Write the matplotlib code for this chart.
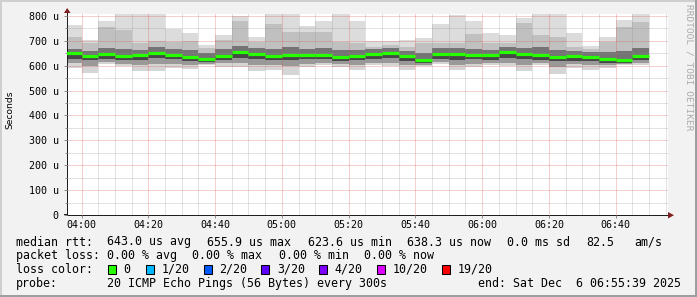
import numpy as np
import pandas as pd
import matplotlib
matplotlib.use("Agg")
import matplotlib.pyplot as plt
import matplotlib.dates as mdates
from matplotlib.patches import Rectangle, Polygon

# 5 minute steps, each value stamped at the end of its step
step_end = pd.date_range("2025-12-06 04:00", periods=35, freq="5min")
t_start = pd.Timestamp("2025-12-06 03:55:39")
t_end = pd.Timestamp("2025-12-06 06:55:39")

# round trip times in microseconds
rtt_max = [762, 705, 781, 850, 870, 840, 749, 732, 682, 725, 800, 716, 860, 840, 761, 779,
           850, 781, 698, 698, 705, 711, 768, 802, 779, 732, 725, 792, 860, 845, 732, 681,
           716, 785, 850]
rtt_hi2 = [717, 690, 754, 744, 693, 700, 697, 700, 671, 703, 780, 697, 768, 737, 737, 737,
           697, 693, 677, 683, 677, 690, 690, 690, 728, 690, 690, 771, 724, 717, 677, 666,
           697, 757, 777]
rtt_hi3 = [668, 660, 672, 668, 664, 676, 668, 662, 650, 668, 680, 670, 668, 676, 668, 672,
           664, 662, 666, 670, 660, 652, 670, 672, 668, 664, 674, 672, 676, 664, 660, 656,
           654, 660, 672]
rtt_median = [650, 639, 648, 638, 642, 652, 645, 637, 628, 641, 655.9, 648, 640, 645, 644, 645,
              637, 640, 646, 652, 638, 625, 646, 646, 644, 643, 654, 647, 645, 637, 638, 637,
              627, 623.6, 638.3]
rtt_lo3 = [628, 622, 628, 622, 624, 630, 626, 620, 614, 622, 630, 626, 622, 624, 626, 626,
           620, 622, 628, 630, 620, 612, 626, 624, 626, 624, 630, 626, 624, 618, 620, 620,
           612, 610, 622]
rtt_lo2 = [610, 600, 614, 608, 604, 606, 608, 604, 608, 610, 610, 604, 604, 598, 608, 612,
           606, 604, 612, 612, 604, 604, 616, 604, 608, 610, 612, 604, 612, 596, 606, 604,
           604, 606, 612]
rtt_min = [591, 571, 605, 598, 580, 578, 591, 588, 604, 595, 595, 580, 584, 564, 595, 602,
           595, 584, 604, 598, 584, 598, 608, 584, 595, 602, 598, 580, 602, 567, 591, 581,
           591, 602, 602]

y_ticks = [0, 100, 200, 300, 400, 500, 600, 700, 800]
y_labels = ["0"] + [f"{v} u" for v in y_ticks[1:]]

loss_labels = ["0", "1/20", "2/20", "3/20", "4/20", "10/20", "19/20"]
loss_colors = ["#26ff00", "#00b8ff", "#0059ff", "#5e00ff", "#7e00ff", "#dd00ff", "#ff0000"]

W, H = 697, 297
MONO = "DejaVu Sans Mono"


def fx(px):
    return px / W


def fy(py):
    return 1 - py / H


fig = plt.figure(figsize=(W / 100, H / 100), dpi=100, facecolor="#f2f2f2")

# 3d frame like rrdtool draws it
fig.add_artist(Rectangle((0, fy(2)), 1, 2 / H, transform=fig.transFigure, color="#cfcfcf", lw=0))
fig.add_artist(Rectangle((0, 0), 2 / W, 1, transform=fig.transFigure, color="#cfcfcf", lw=0))
fig.add_artist(Rectangle((0, 0), 1, 2 / H, transform=fig.transFigure, color="#9e9e9e", lw=0))
fig.add_artist(Rectangle((1 - 2 / W, 0), 2 / W, 1, transform=fig.transFigure, color="#9e9e9e", lw=0))

ax = fig.add_axes([fx(67), fy(215), fx(668) - fx(67), fy(14.3) - fy(215)])
ax.set_facecolor("white")

x0 = mdates.date2num(step_end - pd.Timedelta("5min"))
x1 = mdates.date2num(step_end)
bw = x1 - x0

# smoke: outer bands light, inner bands dark
bands = [
    (rtt_hi2, rtt_max, "#dcdcdc"),
    (rtt_hi3, rtt_hi2, "#c0c0c0"),
    (rtt_median, rtt_hi3, "#747474"),
    (rtt_lo3, rtt_median, "#474747"),
    (rtt_lo2, rtt_lo3, "#999999"),
    (rtt_min, rtt_lo2, "#d5d5d5"),
]
for lo, hi, col in bands:
    lo = np.array(lo, dtype=float)
    hi = np.array(hi, dtype=float)
    ax.bar(x0, hi - lo, width=bw, bottom=lo, align="edge", color=col, lw=0, zorder=1)

ax.hlines(rtt_median, x0, x1, colors=loss_colors[0], lw=2.3, capstyle="butt", zorder=4)

ax.set_xlim(mdates.date2num(t_start), mdates.date2num(t_end))
ax.set_ylim(0, 806.8)

ax.xaxis.set_major_locator(mdates.MinuteLocator(byminute=[0, 20, 40]))
ax.xaxis.set_minor_locator(mdates.MinuteLocator(byminute=range(0, 60, 5)))
ax.xaxis.set_major_formatter(mdates.DateFormatter("%H:%M"))
ax.set_yticks(y_ticks)
ax.set_yticklabels(y_labels)
ax.set_yticks(np.arange(50, 800, 100), minor=True)

ax.set_axisbelow(False)
ax.grid(True, which="major", color="#de4f4f", alpha=0.55, lw=0.72, ls=(0, (1, 1)), zorder=3)
ax.grid(True, which="minor", color="#8f8f8f", alpha=0.5, lw=0.72, ls=(0, (1, 1)), zorder=3)

for s in ["top", "right"]:
    ax.spines[s].set_visible(False)
for s in ["left", "bottom"]:
    ax.spines[s].set_color("#1f1f1f")
    ax.spines[s].set_linewidth(0.72)

ax.tick_params(axis="both", which="both", colors="#8f8f8f", width=0.72, labelcolor="black")
ax.tick_params(axis="y", which="major", length=2.2, pad=3.8, labelsize=7.2)
ax.tick_params(axis="y", which="minor", length=1.5)
ax.tick_params(axis="x", which="major", length=2.2, pad=1.4, labelsize=7.2)
ax.tick_params(axis="x", which="minor", length=0)
for lab in ax.get_xticklabels() + ax.get_yticklabels():
    lab.set_family(MONO)

# arrows at the ends of the axes
fig.add_artist(Polygon([[fx(64), fy(13)], [fx(70.5), fy(13)], [fx(67.2), fy(8)]],
                       closed=True, transform=fig.transFigure, color="#801f1f", lw=0))
fig.add_artist(Rectangle((fx(66.7), fy(14.5)), 1 / W, fy(13) - fy(14.5),
                         transform=fig.transFigure, color="#1f1f1f", lw=0))
fig.add_artist(Polygon([[fx(668), fy(212)], [fx(668), fy(218.5)], [fx(674), fy(215.2)]],
                       closed=True, transform=fig.transFigure, color="#801f1f", lw=0))
fig.add_artist(Rectangle((fx(63.5), fy(215.4)), 3.5 / W, 1 / H,
                         transform=fig.transFigure, color="#1f1f1f", lw=0))

fig.text(fx(10), fy(110), "Seconds", rotation=90, ha="center", va="center",
         family="DejaVu Sans", fontsize=6.6)
fig.text(fx(688.5), fy(4.5), "RRDTOOL / TOBI OETIKER", rotation=270, ha="center", va="top",
         family=MONO, fontsize=6.8, color="#acacac")

# legend area
fs = 8.35
rows = [245.5, 259.2, 272.9, 286.6]
fig.text(fx(16), fy(rows[0]), "median rtt:", family=MONO, fontsize=fs, va="baseline")
rtt_items = [(106.7, "643.0 us avg"), (207.1, "655.9 us max"), (307.6, "623.6 us min"),
             (406.7, "638.3 us now"), (507.2, "0.0 ms sd"), (585.8, "82.5"), (634.7, "am/s")]
for px, txt in rtt_items:
    fig.text(fx(px), fy(rows[0]), txt, family=MONO, fontsize=fs, va="baseline")

fig.text(fx(16), fy(rows[1]), "packet loss:", family=MONO, fontsize=fs, va="baseline")
loss_items = [(106.7, "0.00 % avg"), (192.4, "0.00 % max"), (278.7, "0.00 % min"),
              (364.4, "0.00 % now")]
for px, txt in loss_items:
    fig.text(fx(px), fy(rows[1]), txt, family=MONO, fontsize=fs, va="baseline")

fig.text(fx(16), fy(rows[2]), "loss color:", family=MONO, fontsize=fs, va="baseline")
box_x = [108, 145.8, 203.6, 261.3, 319, 376.9, 442.2]
for bx, lab, col in zip(box_x, loss_labels, loss_colors):
    fig.add_artist(Rectangle((fx(bx), fy(273.5)), 8 / W, 9 / H, transform=fig.transFigure,
                             facecolor=col, edgecolor="black", lw=0.75))
    fig.text(fx(bx + 15.5), fy(rows[2]), lab, family=MONO, fontsize=fs, va="baseline")

fig.text(fx(16), fy(rows[3]), "probe:", family=MONO, fontsize=fs, va="baseline")
fig.text(fx(106.7), fy(rows[3]), "20 ICMP Echo Pings (56 Bytes) every 300s",
         family=MONO, fontsize=fs, va="baseline")
fig.text(fx(478.2), fy(rows[3]), "end: Sat Dec  6 06:55:39 2025",
         family=MONO, fontsize=fs, va="baseline")

fig.savefig("out.png", dpi=100, facecolor=fig.get_facecolor())
